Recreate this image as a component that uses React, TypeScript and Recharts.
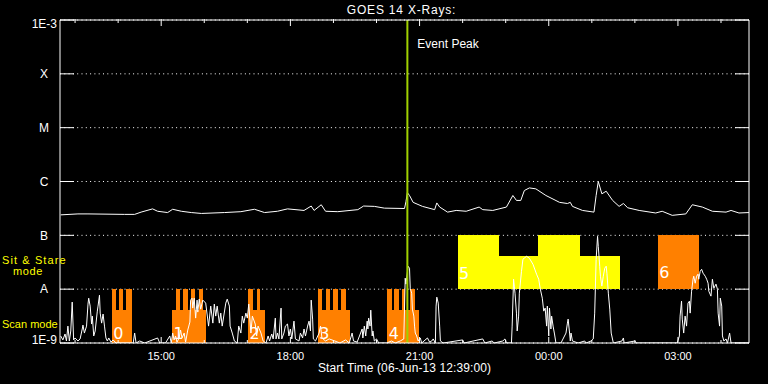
import React from "react";
import {
  CartesianGrid,
  ComposedChart,
  Line,
  ReferenceArea,
  ReferenceLine,
  XAxis,
  YAxis,
} from "recharts";

// GOES 14 X-ray flux with the spectrometer observing modes underneath.
// Time runs in minutes after the plot start (06-Jun-13 12:39:00).

const START_TIME = "06-Jun-13 12:39:00";
const T_END = 960;

const TIME_TICKS = [21, 81, 141, 201, 261, 321, 381, 441, 501, 561, 621, 681, 741, 801, 861, 921];
const TIME_LABELS = ["", "", "15:00", "", "", "18:00", "", "", "21:00", "", "", "00:00", "", "", "03:00", ""];

const FLUX_TICKS = [1e-9, 1e-8, 1e-7, 1e-6, 1e-5, 1e-4, 1e-3];
const FLUX_LABELS = ["1E-9", "A", "B", "C", "M", "X", "1E-3"];

const EVENT_PEAK = 484;

// long channel (1-8 A), [minute, W/m^2]
const LONG_CHANNEL: [number, number][] = [
  [1, 2.4e-7], [25, 2.5e-7], [39, 2.5e-7], [90, 2.45e-7], [104, 2.45e-7], [113, 2.7e-7],
  [129, 3.1e-7], [136, 2.8e-7], [150, 2.65e-7], [157, 3.05e-7], [169, 2.8e-7], [183, 2.65e-7],
  [197, 2.55e-7], [229, 2.65e-7], [252, 2.75e-7], [271, 3.05e-7], [285, 2.65e-7], [303, 2.8e-7],
  [317, 3.1e-7], [340, 2.9e-7], [350, 3.5e-7], [354, 2.9e-7], [364, 3.7e-7], [370, 2.8e-7],
  [387, 2.75e-7], [415, 3.0e-7], [423, 3.5e-7], [438, 3.45e-7], [452, 3.2e-7], [480, 3.15e-7],
  [482, 4.2e-7], [484, 6.2e-7], [487, 5.5e-7], [492, 4.1e-7], [505, 3.45e-7], [522, 3.0e-7],
  [525, 4.0e-7], [529, 3.35e-7], [540, 2.7e-7], [552, 2.9e-7], [566, 2.8e-7], [584, 3.35e-7],
  [589, 3.0e-7], [603, 2.9e-7], [622, 3.35e-7], [631, 5.5e-7], [636, 4.45e-7], [642, 4.45e-7],
  [647, 6.8e-7], [654, 7.6e-7], [663, 7.3e-7], [677, 5.5e-7], [696, 4.1e-7], [707, 3.9e-7],
  [711, 4.1e-7], [714, 3.45e-7], [728, 2.9e-7], [744, 2.7e-7], [747, 5.5e-7], [750, 1.0e-6],
  [755, 5.9e-7], [761, 6.6e-7], [770, 4.45e-7], [779, 3.45e-7], [785, 3.9e-7], [791, 3.25e-7],
  [807, 2.9e-7], [830, 2.6e-7], [839, 2.8e-7], [853, 2.35e-7], [872, 2.5e-7], [881, 3.7e-7],
  [895, 3.35e-7], [909, 2.8e-7], [928, 2.7e-7], [935, 2.9e-7], [946, 2.6e-7], [960, 2.65e-7],
];

// short channel (0.5-4 A), floored at 1E-9
const SHORT_CHANNEL: [number, number][] = [
  [1, 1.35e-9], [4, 1.14e-9], [7, 1.47e-9], [9, 1.09e-9], [11, 2.06e-9], [13, 1.09e-9],
  [15, 1.67e-9], [17, 5.75e-9], [19, 1.14e-9], [21, 1.24e-9], [25, 1.09e-9], [28, 1.19e-9],
  [31, 1.82e-9], [32, 2.15e-9], [34, 1.53e-9], [37, 2.06e-9], [39, 5.28e-9], [40, 6.8e-9],
  [42, 4.85e-9], [44, 2.25e-9], [45, 3.16e-9], [47, 1.35e-9], [49, 1.67e-9], [52, 3.91e-9],
  [53, 4.85e-9], [55, 7.74e-9], [56, 3.59e-9], [58, 2.34e-9], [60, 3.45e-9], [62, 2.06e-9],
  [64, 1.24e-9], [66, 1.09e-9], [68, 1.24e-9], [71, 1.04e-9], [74, 1.14e-9], [78, 1e-9],
  [92, 1e-9], [102, 1e-9], [104, 1.53e-9], [106, 1e-9], [111, 1.09e-9], [118, 1e-9],
  [136, 1.24e-9], [139, 1e-9], [147, 1e-9], [153, 1.35e-9], [155, 1e-9], [157, 1.53e-9],
  [159, 1.14e-9], [161, 1.35e-9], [163, 1.04e-9], [166, 1.24e-9], [168, 1.74e-9], [170, 1.24e-9],
  [173, 1.53e-9], [175, 1.04e-9], [178, 1.74e-9], [181, 2.45e-9], [182, 6.26e-9], [184, 6.8e-9],
  [185, 4.45e-9], [187, 6.8e-9], [189, 2.9e-9], [191, 6.26e-9], [192, 3.75e-9], [194, 6.53e-9],
  [196, 4.26e-9], [199, 6.26e-9], [203, 5.51e-9], [207, 2.06e-9], [210, 4.85e-9], [213, 2.34e-9],
  [215, 5.28e-9], [217, 3.16e-9], [219, 4.85e-9], [222, 2.34e-9], [224, 3.59e-9], [226, 2.06e-9],
  [231, 5.51e-9], [233, 6.53e-9], [236, 4.85e-9], [237, 2.06e-9], [240, 1.53e-9], [243, 1.09e-9],
  [247, 1e-9], [249, 2.06e-9], [252, 1.53e-9], [254, 3.16e-9], [256, 2.34e-9], [259, 3.59e-9],
  [261, 2.9e-9], [263, 5.28e-9], [266, 1.53e-9], [268, 3.16e-9], [272, 2.25e-9], [274, 1.35e-9],
  [276, 2.06e-9], [280, 1.53e-9], [283, 1.09e-9], [287, 1e-9], [290, 1.35e-9], [292, 1.09e-9],
  [295, 1.47e-9], [297, 1.19e-9], [300, 2.9e-9], [301, 1.19e-9], [303, 1.53e-9], [305, 1.19e-9],
  [308, 4.45e-9], [309, 1.19e-9], [312, 1.53e-9], [314, 2.06e-9], [317, 2.25e-9], [319, 1.35e-9],
  [321, 1.82e-9], [323, 1.19e-9], [326, 2.55e-9], [328, 1.19e-9], [333, 1.09e-9], [335, 1.53e-9],
  [338, 1.24e-9], [340, 1.82e-9], [342, 1.35e-9], [345, 2.06e-9], [347, 2.55e-9], [349, 1.67e-9],
  [350, 6.26e-9], [352, 2.78e-9], [353, 1.19e-9], [356, 1.09e-9], [361, 1.53e-9], [363, 2.06e-9],
  [365, 1.24e-9], [370, 1.09e-9], [375, 1.19e-9], [383, 1.09e-9], [390, 1e-9], [398, 1.14e-9],
  [403, 1e-9], [407, 1.53e-9], [409, 1.09e-9], [414, 1.04e-9], [421, 1.82e-9], [422, 1.24e-9],
  [424, 2.06e-9], [426, 1.35e-9], [428, 2.55e-9], [429, 1.82e-9], [430, 2.9e-9], [432, 2.06e-9],
  [433, 4.08e-9], [435, 1.35e-9], [436, 1.67e-9], [438, 1.09e-9], [441, 1.19e-9], [444, 1e-9],
  [455, 1e-9], [462, 1.09e-9], [467, 1e-9], [474, 1.09e-9], [479, 1.19e-9], [481, 1.6e-8],
  [482, 1.24e-8], [485, 2.67e-8], [487, 2.45e-8], [488, 1.04e-8], [490, 8.43e-9], [491, 4.26e-9],
  [493, 3.16e-9], [494, 2.06e-9], [495, 1.53e-9], [497, 1.35e-9], [499, 1.09e-9], [502, 1.24e-9],
  [504, 1e-9], [512, 1.24e-9], [515, 1.04e-9], [518, 1.09e-9], [520, 1.19e-9], [523, 1e-9],
  [524, 4.85e-9], [525, 7.11e-9], [527, 5.51e-9], [529, 2.06e-9], [530, 1.09e-9], [534, 1e-9],
  [561, 1.14e-9], [563, 1e-9], [589, 1.19e-9], [592, 1e-9], [602, 1.09e-9], [605, 1e-9],
  [617, 1.09e-9], [620, 1.19e-9], [622, 1e-9], [629, 1e-9], [630, 2.06e-9], [632, 1.53e-8],
  [633, 1.14e-8], [634, 8.43e-9], [636, 3.59e-9], [637, 1.67e-9], [639, 3.16e-9], [640, 8.43e-9],
  [643, 2.15e-8], [645, 3.59e-8], [650, 4.08e-8], [654, 3.75e-8], [659, 2.9e-8], [664, 1.9e-8],
  [667, 1.53e-8], [669, 1.04e-8], [672, 6.8e-9], [674, 3.91e-9], [676, 4.45e-9], [678, 2.06e-9],
  [679, 4.85e-9], [681, 1.35e-9], [682, 4.45e-9], [684, 1.82e-9], [685, 3.16e-9], [687, 2.06e-9],
  [689, 1.47e-9], [691, 1e-9], [698, 1e-9], [705, 1.53e-9], [707, 2.34e-9], [708, 2.78e-9],
  [710, 1.53e-9], [711, 1.09e-9], [712, 1.53e-9], [714, 1.09e-9], [722, 1e-9], [731, 1.09e-9],
  [733, 1e-9], [740, 1.09e-9], [743, 1.19e-9], [745, 3.59e-9], [747, 3.59e-8], [749, 9.6e-8],
  [750, 6.25e-8], [752, 2.67e-8], [753, 1.74e-8], [755, 1.14e-8], [757, 1.74e-8], [759, 2.45e-8],
  [761, 2.67e-8], [762, 1.98e-8], [764, 8.43e-9], [766, 4.26e-9], [768, 1.53e-9], [771, 1e-9],
  [783, 1.09e-9], [785, 1.24e-9], [786, 1e-9], [801, 1.09e-9], [803, 1e-9], [860, 1e-9],
  [863, 1.35e-9], [864, 3.16e-9], [866, 6.0e-9], [867, 2.78e-9], [869, 1.53e-9], [871, 3.16e-9],
  [873, 2.06e-9], [875, 5.51e-9], [877, 6.0e-9], [878, 3.59e-9], [880, 9.18e-9], [882, 1.53e-8],
  [883, 1.74e-8], [885, 1.29e-8], [887, 1.74e-8], [889, 1.9e-8], [890, 1.53e-8], [892, 2.15e-8],
  [894, 2.34e-8], [896, 1.98e-8], [899, 1.74e-8], [901, 1.53e-8], [903, 1.29e-8], [904, 9.18e-9],
  [907, 7.42e-9], [909, 1.53e-8], [911, 1.04e-8], [914, 1.24e-8], [916, 1.0e-8], [917, 3.59e-9],
  [919, 2.06e-9], [920, 6.8e-9], [922, 4.85e-9], [923, 1.35e-9], [925, 1.09e-9], [928, 1.19e-9],
  [930, 1e-9], [933, 1.53e-9], [935, 1e-9], [960, 1e-9],
];

// scan mode rasters: a low strip plus teeth that reach class A
const SCAN_FLOOR = 1e-9;
const SCAN_STRIP_TOP = 4.1e-9;
const SCAN_TOOTH_TOP = 1e-8;
const SCAN_BLOCKS = [
  { id: "0", start: 72, end: 100 },
  { id: "1", start: 156, end: 204 },
  { id: "2", start: 262, end: 285 },
  { id: "3", start: 359, end: 404 },
  { id: "4", start: 456, end: 500 },
];
const SCAN_TEETH: [number, number][] = [
  [72, 78], [82, 88], [92, 100],
  [161, 167], [172, 178], [182, 188], [193, 199],
  [262, 269], [274, 279],
  [359, 365], [370, 376], [380, 387], [391, 398],
  [456, 462], [466, 472], [476, 481], [487, 494],
];

// sit & stare pointings (class A up to B)
const STARE_FLOOR = 1e-8;
const STARE_STEPS = [
  { start: 554, end: 611, top: 1e-7 },
  { start: 611, end: 666, top: 4.1e-8 },
  { start: 666, end: 725, top: 1e-7 },
  { start: 725, end: 780, top: 4.1e-8 },
];
const STARE_ID = "5";
const LATE_BLOCK = { id: "6", start: 833, end: 890, bottom: 1e-8, top: 1e-7 };

const ORANGE = "#ff8000";
const YELLOW = "#ffff00";
const PEAK_GREEN = "#a0d000";
const FONT = "'Liberation Sans', Arial, sans-serif";
const PLOT_HEIGHT = 324; // frame height: x axis (343) up to the top border (19)

const toPoints = (rows: [number, number][]) => rows.map(([t, flux]) => ({ t, flux }));
const longData = toPoints(LONG_CHANNEL);
const shortData = toPoints(SHORT_CHANNEL);

// bottom tick also draws its twin on the top border (a top XAxis without
// series gets no scale, so its ticks never render)
function BottomTick({ x, y, payload }: any) {
  const label = TIME_LABELS[TIME_TICKS.indexOf(payload.value)] ?? "";
  const major = label !== "";
  const top = y - PLOT_HEIGHT;
  return (
    <g>
      <path d={`M${x},${y}V${y - (major ? 6 : 3)}`} stroke="#fff" strokeWidth={1} fill="none" />
      <path d={`M${x},${top}V${top + (major ? 7 : 4)}`} stroke="#fff" strokeWidth={1} fill="none" />
      {major && (
        <text x={x} y={y + 16.5} textAnchor="middle" fill="#fff" fontSize={11} fontFamily={FONT}>
          {label}
        </text>
      )}
    </g>
  );
}

function LeftTick({ x, y, payload }: any) {
  const i = FLUX_TICKS.indexOf(payload.value);
  const label = FLUX_LABELS[i] ?? "";
  const isPower = label.startsWith("1E");
  const dy = i === FLUX_TICKS.length - 1 ? 7.7 : i === 0 ? 1 : 4.3;
  return (
    <g>
      <path d={`M${x},${y}H${x + 14}`} stroke="#fff" strokeWidth={1} fill="none" />
      <text
        x={isPower ? x - 3 : x - 16}
        y={y + dy}
        textAnchor={isPower ? "end" : "middle"}
        fill="#fff"
        fontSize={12}
        fontFamily={FONT}
      >
        {label}
      </text>
    </g>
  );
}

function RightTick({ x, y }: any) {
  return <path d={`M${x - 14},${y}H${x}`} stroke="#fff" strokeWidth={1} fill="none" />;
}

function BlockLabel({ viewBox, text, lift }: any) {
  if (!viewBox) return null;
  return (
    <text
      x={viewBox.x + 1.5}
      y={viewBox.y + viewBox.height - lift}
      fill="#fff"
      fontSize={16}
      fontFamily="'DejaVu Sans', sans-serif"
    >
      {text}
    </text>
  );
}

function PeakLabel({ viewBox }: any) {
  if (!viewBox) return null;
  return (
    <text x={viewBox.x + 10} y={viewBox.y + 28} fill="#fff" fontSize={12} fontFamily={FONT}>
      Event Peak
    </text>
  );
}

function TitleLabel({ viewBox }: any) {
  if (!viewBox) return null;
  return (
    <text
      x={viewBox.x + viewBox.width / 2 - 3}
      y={viewBox.y - 5}
      textAnchor="middle"
      fill="#fff"
      fontSize={12}
      letterSpacing={0.8}
      fontFamily={FONT}
    >
      GOES 14 X-Rays:
    </text>
  );
}

function StartLabel({ viewBox }: any) {
  if (!viewBox) return null;
  return (
    <text
      x={viewBox.x + viewBox.width / 2}
      y={viewBox.y + 29}
      textAnchor="middle"
      fill="#fff"
      fontSize={12}
      letterSpacing={0.1}
      fontFamily={FONT}
    >
      {`Start Time (${START_TIME})`}
    </text>
  );
}

function ModeLabels({ viewBox }: any) {
  if (!viewBox) return null;
  const { y, height } = viewBox;
  return (
    <g fill={YELLOW} fontSize={11} fontFamily={FONT}>
      <text x={2} y={y + height * 0.754} letterSpacing={1.1}>
        Sit &amp; Stare
      </text>
      <text x={13} y={y + height * 0.79} letterSpacing={0.6}>
        mode
      </text>
      <text x={2} y={y + height * 0.955}>
        Scan mode
      </text>
    </g>
  );
}

export default function App() {
  return (
    <div
      style={{
        position: "absolute",
        left: 0,
        top: 0,
        width: 768,
        height: 384,
        background: "#000",
        fontFamily: FONT,
      }}
    >
      <ComposedChart width={768} height={384} margin={{ top: 19, right: 18, bottom: 0, left: 0 }}>
        <CartesianGrid vertical={false} stroke="#fff" strokeDasharray="1 3.3" />
        <XAxis
          dataKey="t"
          type="number"
          domain={[0, T_END]}
          allowDataOverflow
          ticks={TIME_TICKS}
          interval={0}
          height={41}
          tickSize={0}
          tickMargin={0}
          tickLine={false}
          tick={<BottomTick />}
          axisLine={{ stroke: "#fff" }}
          label={<StartLabel />}
        />
        <XAxis
          xAxisId="top"
          orientation="top"
          type="number"
          domain={[0, T_END]}
          allowDataOverflow
          height={1}
          tick={false}
          tickLine={false}
          axisLine={{ stroke: "#fff" }}
          label={<TitleLabel />}
        />
        <YAxis
          scale="log"
          type="number"
          domain={[1e-9, 1e-3]}
          allowDataOverflow
          ticks={FLUX_TICKS}
          interval={0}
          width={60}
          tickSize={0}
          tickMargin={0}
          tickLine={false}
          tick={<LeftTick />}
          axisLine={{ stroke: "#fff" }}
          label={<ModeLabels />}
        />
        <YAxis
          yAxisId="right"
          orientation="right"
          scale="log"
          type="number"
          domain={[1e-9, 1e-3]}
          allowDataOverflow
          ticks={FLUX_TICKS}
          interval={0}
          width={1}
          tickSize={0}
          tickMargin={0}
          tickLine={false}
          tick={<RightTick />}
          axisLine={{ stroke: "#fff" }}
        />

        {SCAN_TEETH.map(([a, b]) => (
          <ReferenceArea
            key={`tooth-${a}`}
            x1={a}
            x2={b}
            y1={SCAN_FLOOR}
            y2={SCAN_TOOTH_TOP}
            fill={ORANGE}
            fillOpacity={1}
            stroke="none"
            shapeRendering="crispEdges"
          />
        ))}
        {SCAN_BLOCKS.map((b) => (
          <ReferenceArea
            key={`scan-${b.id}`}
            x1={b.start}
            x2={b.end}
            y1={SCAN_FLOOR}
            y2={SCAN_STRIP_TOP}
            fill={ORANGE}
            fillOpacity={1}
            stroke="none"
            shapeRendering="crispEdges"
            label={<BlockLabel text={b.id} lift={4} />}
          />
        ))}
        {STARE_STEPS.map((s, i) => (
          <ReferenceArea
            key={`stare-${s.start}`}
            x1={s.start}
            x2={s.end}
            y1={STARE_FLOOR}
            y2={s.top}
            fill={YELLOW}
            fillOpacity={1}
            stroke="none"
            shapeRendering="crispEdges"
            label={i === 0 ? <BlockLabel text={STARE_ID} lift={10} /> : undefined}
          />
        ))}
        <ReferenceArea
          x1={LATE_BLOCK.start}
          x2={LATE_BLOCK.end}
          y1={LATE_BLOCK.bottom}
          y2={LATE_BLOCK.top}
          fill={ORANGE}
          fillOpacity={1}
          stroke="none"
          shapeRendering="crispEdges"
          label={<BlockLabel text={LATE_BLOCK.id} lift={11} />}
        />

        <Line
          data={shortData}
          dataKey="flux"
          type="linear"
          stroke="#fff"
          strokeWidth={1}
          dot={false}
          isAnimationActive={false}
        />
        <Line
          data={longData}
          dataKey="flux"
          type="linear"
          stroke="#fff"
          strokeWidth={1}
          dot={false}
          isAnimationActive={false}
        />

        <ReferenceLine x={EVENT_PEAK} stroke={PEAK_GREEN} strokeWidth={2} label={<PeakLabel />} />
      </ComposedChart>
    </div>
  );
}
